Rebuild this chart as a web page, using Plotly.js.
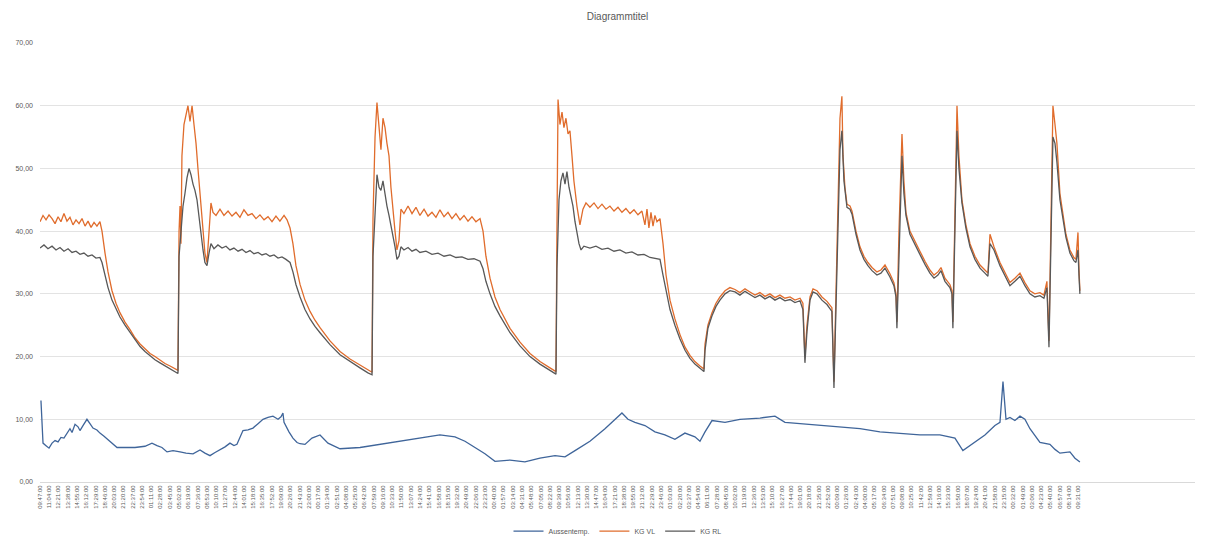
<!DOCTYPE html>
<html>
<head>
<meta charset="utf-8">
<script src="https://cdn.plot.ly/plotly-3.0.1.min.js"></script>
<style>
html,body{margin:0;padding:0;background:#fff;}
#chart{width:1208px;height:558px;}
</style>
</head>
<body>
<div id="chart"></div>
<script>
// Tick labels (every 77 minutes)
const tickLabels = ["09:47:00","11:04:00","12:21:00","13:38:00","14:55:00","16:12:00","17:29:00","18:46:00","20:03:00","21:20:00",
"22:37:00","23:54:00","01:11:00","02:28:00","03:45:00","05:02:00","06:19:00","07:36:00","08:53:00","10:10:00",
"11:27:00","12:44:00","14:01:00","15:18:00","16:35:00","17:52:00","19:09:00","20:26:00","21:43:00","23:00:00",
"00:17:00","01:34:00","02:51:00","04:08:00","05:25:00","06:42:00","07:59:00","09:16:00","10:33:00","11:50:00",
"13:07:00","14:24:00","15:41:00","16:58:00","18:15:00","19:32:00","20:49:00","22:06:00","23:23:00","00:40:00",
"01:57:00","03:14:00","04:31:00","05:48:00","07:05:00","08:22:00","09:39:00","10:56:00","12:13:00","13:30:00",
"14:47:00","16:04:00","17:21:00","18:38:00","19:55:00","21:12:00","22:29:00","23:46:00","01:03:00","02:20:00",
"03:37:00","04:54:00","06:11:00","07:28:00","08:45:00","10:02:00","11:19:00","12:36:00","13:53:00","15:10:00",
"16:27:00","17:44:00","19:01:00","20:18:00","21:35:00","22:52:00","00:09:00","01:26:00","02:43:00","04:00:00",
"05:17:00","06:34:00","07:51:00","09:08:00","10:25:00","11:42:00","12:59:00","14:16:00","15:33:00","16:50:00",
"18:07:00","19:24:00","20:41:00","21:58:00","23:15:00","00:32:00","01:49:00","03:06:00","04:23:00","05:40:00",
"06:57:00","08:14:00","09:31:00"];
const tickStepMin = 77;

// Aussentemp. (minutes since start, °C)
const aussenX = [8,25,50,75,100,125,150,174,199,224,249,266,291,316,332,357,390,415,440,473,498,532,556,581,615,640,706,789,872,930,972,1013,1055,1105,1163,1213,1271,1304,1329,1370,1412,1454,1495,1537,1578,1611,1636,1661,1686,1728,1769,1811,1852,1894,1935,1960,1977,2002,2018,2027,2035,2068,2101,2135,2160,2201,2259,2326,2392,2492,2658,2824,2990,3156,3322,3447,3530,3613,3696,3779,3904,4028,4153,4278,4361,4444,4568,4693,4776,4834,4884,4942,5025,5108,5191,5274,5357,5440,5482,5524,5582,5690,5814,5980,6105,6188,6313,6479,6645,6811,6977,7143,7309,7475,7600,7666,7741,7849,7932,7974,7999,8024,8057,8098,8140,8181,8223,8264,8306,8389,8431,8472,8555,8597,8638];
const aussenY = [13,6.2,5.8,5.4,6.2,6.6,6.4,7.1,7,7.8,8.5,7.9,9.2,8.8,8.2,9,10,9.3,8.6,8.3,7.8,7.3,6.9,6.4,5.9,5.5,5.5,5.5,5.7,6.2,5.8,5.5,4.8,5,4.8,4.6,4.5,4.8,5.1,4.6,4.2,4.7,5.1,5.6,6.2,5.8,6,7,8.2,8.3,8.6,9.3,10,10.3,10.5,10.2,10,10.4,11,9.5,9.2,8,7,6.3,6.1,6,7,7.5,6.2,5.3,5.5,6,6.5,7,7.5,7.2,6.5,5.5,4.5,3.3,3.5,3.2,3.8,4.2,4,5,6.5,8.5,10,11,10,9.5,9,8,7.5,6.8,7.8,7.2,6.5,8,9.8,9.5,10,10.2,10.5,9.5,9.3,9,8.8,8.5,8,7.8,7.5,7.5,7,5,6,7.5,9,9.5,16,10,10.3,9.8,10.5,10,8.5,7.5,6.3,6,5.2,4.6,4.8,3.8,3.2];

// KG VL
const vlX = [0,25,50,75,100,125,150,174,199,224,249,274,299,324,349,374,399,424,449,473,498,515,540,565,598,631,664,706,748,789,831,872,914,955,997,1038,1080,1121,1146,1155,1163,1171,1179,1196,1213,1229,1246,1263,1279,1296,1312,1329,1354,1370,1387,1404,1420,1437,1462,1495,1528,1562,1595,1628,1661,1694,1728,1761,1794,1827,1861,1894,1927,1960,1993,2027,2052,2077,2101,2126,2160,2201,2243,2284,2326,2409,2492,2575,2658,2724,2758,2766,2783,2799,2816,2832,2849,2866,2882,2899,2915,2932,2949,2965,2982,2998,3023,3057,3090,3123,3156,3190,3223,3256,3289,3322,3356,3389,3422,3455,3489,3522,3555,3588,3621,3655,3680,3704,3738,3779,3821,3904,3987,4070,4153,4236,4286,4294,4303,4319,4336,4352,4369,4386,4402,4419,4435,4460,4485,4510,4535,4568,4602,4635,4668,4701,4734,4768,4801,4834,4867,4901,4934,4967,5000,5025,5042,5058,5075,5092,5108,5125,5150,5175,5200,5233,5274,5316,5358,5399,5440,5482,5515,5524,5548,5582,5615,5648,5690,5731,5773,5814,5856,5897,5939,5980,6022,6063,6105,6146,6188,6230,6271,6313,6337,6354,6371,6396,6421,6454,6495,6537,6578,6595,6612,6628,6645,6661,6670,6686,6703,6728,6745,6778,6811,6844,6877,6911,6952,6985,7019,7060,7093,7110,7118,7135,7160,7176,7193,7226,7268,7309,7351,7392,7426,7459,7484,7517,7558,7575,7583,7600,7617,7633,7658,7691,7725,7766,7808,7849,7874,7891,7924,7974,8015,8057,8098,8140,8181,8223,8264,8306,8339,8364,8381,8397,8414,8431,8447,8472,8497,8522,8555,8588,8605,8622,8630,8638];
const vlY = [41.5,42.5,41.8,42.6,42,41.2,42.3,41.5,42.8,41.6,42.2,41,41.8,41.2,42,40.8,41.6,40.6,41.4,40.8,41.5,40,36.5,33.5,30.5,28.5,27,25.5,24.3,23,22,21.2,20.5,20,19.4,18.9,18.5,18,17.8,40,44,38,52,57,58.5,60,57.5,60,57,54,50,46,40,36.5,35,40,44.5,43,42.5,43.5,42.5,43.2,42.4,43,42.2,43.4,42.5,42.8,42,42.6,41.8,42.3,41.5,42.4,41.6,42.5,41.8,40.5,38,34.5,31.5,29,27.2,25.8,24.6,22.5,20.8,19.6,18.6,17.8,17.5,42,55,60.5,57,53,58,56.5,54,52,47,43,40,37,38.5,43.5,42.8,44,42.8,43.8,42.5,43.5,42.4,43,42.2,43.4,42.3,43,42,42.8,41.8,42.5,41.6,42.3,41.5,42,40,36,32.5,29.5,27.5,24.5,22.3,20.5,19.2,18.2,17.6,40,61,57,59,56.5,58,55.5,56,52,48,44,41,43.5,44.5,43.8,44.5,43.6,44.3,43.5,44,43.2,43.8,43,43.6,42.8,43.4,42.6,43.2,41,43.5,40.5,43,40.8,42.5,41.5,42,38,33,29,26,23.5,21.5,20.2,19.2,18.5,18,22,25,27,28.5,29.5,30.5,31,30.7,30.2,30.8,30.3,29.8,30.2,29.6,30,29.4,29.8,29.3,29.5,29,29.3,28.5,20,25,29.5,30.8,30.5,29.5,28.8,27.8,16,30,48,58,61.5,52,47,44.3,44,43.2,40,37.5,36,35,34.2,33.5,33.8,34.6,33.2,31.8,30,25.5,40,55.5,48,43,40,38.5,36.8,35.2,33.8,33,33.5,34.2,32.5,31.5,30.5,25.5,45,60,52,45,41,38,36,34.6,33.8,33.3,39.5,37.5,35,33.5,31.8,32.5,33.3,31.8,30.5,30,30.2,29.8,32,22.5,40,60,57,54,46,42.5,39.5,37,35.8,35.5,39.8,34,30.5];

// KG RL
const rlX = [0,33,66,100,133,166,199,233,266,299,332,365,399,432,465,498,515,540,565,598,631,664,706,748,789,831,872,914,955,997,1038,1080,1121,1146,1155,1171,1188,1204,1221,1238,1254,1271,1287,1304,1321,1337,1354,1370,1387,1404,1420,1445,1478,1512,1545,1578,1611,1645,1678,1711,1744,1777,1811,1844,1877,1910,1944,1977,2010,2043,2077,2101,2126,2160,2201,2243,2284,2326,2409,2492,2575,2658,2724,2758,2766,2783,2799,2816,2832,2849,2866,2882,2899,2915,2932,2949,2965,2982,2998,3023,3057,3090,3123,3156,3206,3256,3306,3356,3406,3455,3505,3555,3605,3655,3680,3704,3738,3779,3821,3904,3987,4070,4153,4236,4286,4294,4311,4327,4344,4361,4377,4394,4410,4427,4444,4460,4477,4494,4518,4568,4618,4668,4718,4768,4817,4867,4917,4967,5017,5067,5108,5150,5175,5200,5233,5274,5316,5358,5399,5440,5482,5515,5524,5548,5582,5615,5648,5690,5731,5773,5814,5856,5897,5939,5980,6022,6063,6105,6146,6188,6230,6271,6313,6337,6354,6371,6396,6421,6454,6495,6537,6578,6595,6612,6628,6645,6661,6678,6703,6728,6745,6778,6811,6844,6877,6911,6952,6985,7019,7060,7093,7110,7118,7135,7160,7176,7193,7226,7268,7309,7351,7392,7426,7459,7484,7517,7558,7575,7583,7600,7617,7633,7658,7691,7725,7766,7808,7849,7874,7891,7924,7974,8015,8057,8098,8140,8181,8223,8264,8306,8339,8364,8381,8397,8414,8431,8447,8472,8497,8522,8555,8588,8605,8622,8630,8638];
const rlY = [37.3,37.8,37.2,37.6,37,37.4,36.8,37.2,36.6,36.8,36.3,36.5,36,36.2,35.7,35.8,35,33,31,29,27.5,26.3,25,23.8,22.6,21.6,20.8,20.1,19.5,19,18.5,18.1,17.6,17.3,36,40,44,46,48.5,50,49,47.5,46.5,45,42,40,37,35,34.5,36.5,38,37.2,37.8,37.3,37.6,37,37.3,36.8,37.1,36.6,36.9,36.4,36.6,36.2,36.4,36,36.2,35.7,35.9,35.5,35,33.5,31.5,29.5,27.5,26,24.8,23.8,21.9,20.3,19.2,18.2,17.4,17.1,36,44,49,47,46.5,48,45.5,44,42.5,41,39,37.5,35.5,36,37.5,37,37.4,36.8,37.1,36.6,36.8,36.3,36.5,36,36.2,35.8,35.9,35.5,35.6,35.2,34,32,30,28,26.5,23.8,21.7,20,18.8,17.8,17.2,34,45,48,49.3,47.5,49.5,47,45.5,44,41.5,39.5,38,37,37.6,37.3,37.6,37.1,37.3,36.8,37,36.5,36.7,36.2,36.3,35.8,35.7,35.5,33,30.5,27.5,25,22.8,21,19.7,18.8,18.1,17.6,21,24.5,26.5,28,29,30,30.5,30.3,29.8,30.4,29.9,29.4,29.8,29.2,29.6,29,29.4,28.9,29.1,28.6,28.9,27.5,19,24,29,30.3,30,29,28.3,27.2,15,27,42,53,56,48,43.8,43.5,42.7,39.5,37,35.5,34.5,33.7,33,33.3,34.1,32.7,31.3,29.5,24.5,37,52,46,42.5,39.5,38,36.3,34.7,33.3,32.5,33,33.7,32,31,30,24.5,42,56,50,44.5,40.5,37.5,35.5,34.1,33.3,32.8,38,37,34.5,33,31.3,32,32.8,31.3,30,29.5,29.7,29.3,31,21.5,37,55,54,51,45,42,39,36.5,35.3,35,37,33,30];

const seriesNames = ["Aussentemp.", "KG VL", "KG RL"];
const seriesColors = ["#3F659A", "#E06C2C", "#585858"];

const tickVals = tickLabels.map((_, i) => i * tickStepMin);

const traces = [
  {x: aussenX, y: aussenY, name: seriesNames[0], type: 'scatter', mode: 'lines', line: {color: seriesColors[0], width: 1.3}},
  {x: vlX, y: vlY, name: seriesNames[1], type: 'scatter', mode: 'lines', line: {color: seriesColors[1], width: 1.3}},
  {x: rlX, y: rlY, name: seriesNames[2], type: 'scatter', mode: 'lines', line: {color: seriesColors[2], width: 1.3}}
];

const layout = {
  width: 1208, height: 558,
  margin: {l: 40, r: 13, t: 43, b: 60},
  paper_bgcolor: '#ffffff', plot_bgcolor: '#ffffff',
  separators: ',.',
  font: {family: 'Liberation Sans, Arial, sans-serif', color: '#595959', size: 7},
  title: {text: 'Diagrammtitel', font: {size: 10, color: '#595959'}, x: 0.5, xref: 'paper', xanchor: 'center', y: 0.97, yref: 'container', yanchor: 'middle'},
  xaxis: {
    range: [0, 9594], tickmode: 'array', tickvals: tickVals, ticktext: tickLabels,
    tickangle: -90, tickfont: {size: 6, color: '#595959'},
    showgrid: false, zeroline: false, showline: true, linecolor: '#D9D9D9', linewidth: 1,
    ticks: '', fixedrange: true
  },
  yaxis: {
    range: [0, 70], dtick: 10, tick0: 0, tickformat: '.2f',
    tickfont: {size: 7, color: '#595959'},
    showgrid: true, gridcolor: '#E3E3E3', gridwidth: 1, zeroline: false, showline: false,
    ticks: '', ticklabelstandoff: 6, fixedrange: true
  },
  legend: {orientation: 'h', x: 0.5, xanchor: 'center', y: -0.112, yanchor: 'middle', font: {size: 7, color: '#595959'}, itemwidth: 30, tracegroupgap: 0},
  showlegend: true
};

Plotly.newPlot('chart', traces, layout, {displayModeBar: false, staticPlot: true});
</script>
</body>
</html>
